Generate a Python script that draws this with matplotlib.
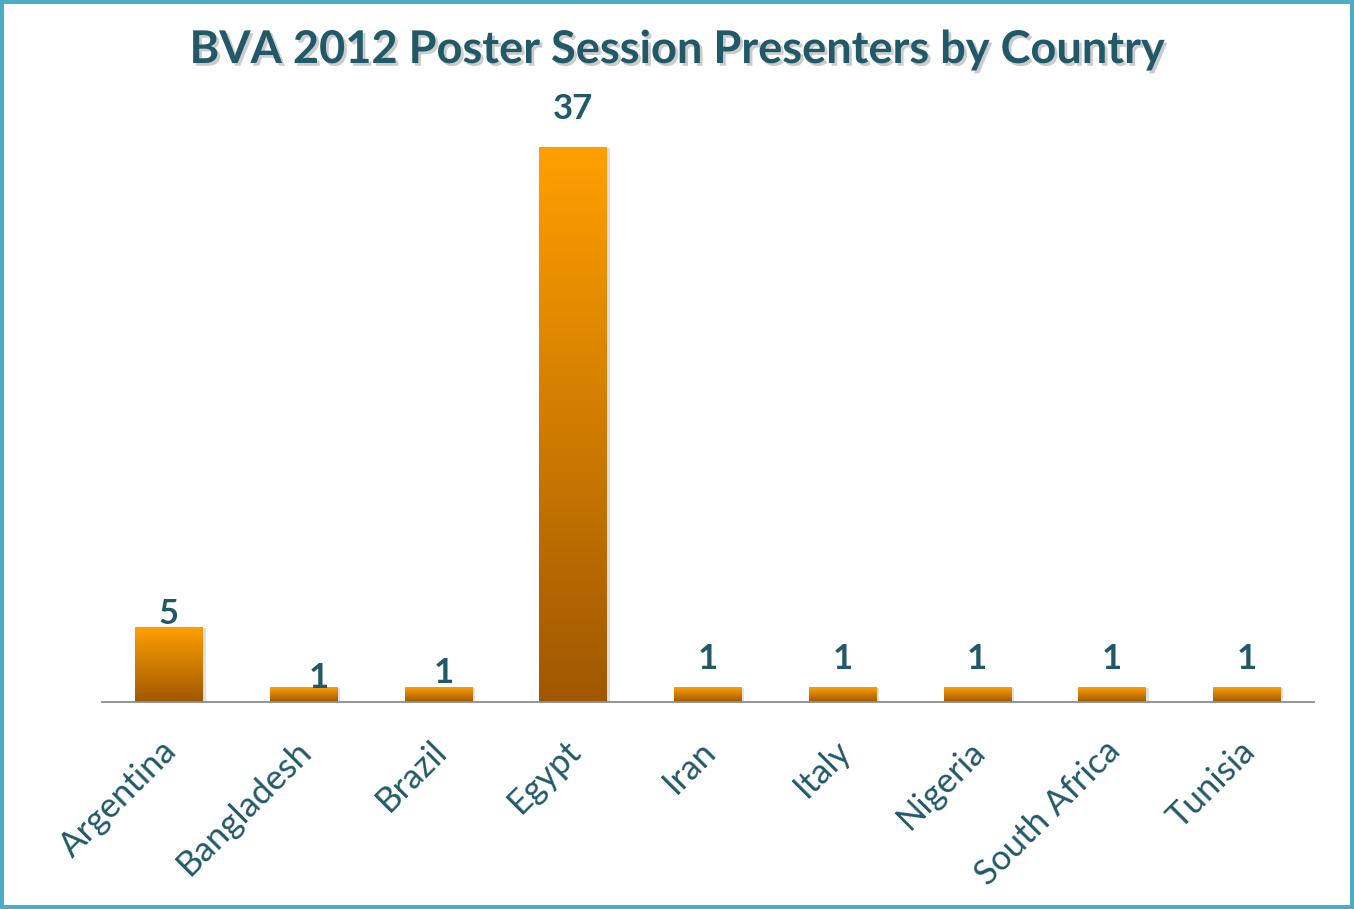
import matplotlib
matplotlib.use("Agg")
import matplotlib.pyplot as plt
import matplotlib.patches as mpatches
import matplotlib.transforms as mtransforms
import matplotlib.patheffects as pe
import numpy as np
from matplotlib.colors import LinearSegmentedColormap

# ---- data ----
countries = ["Argentina", "Bangladesh", "Brazil", "Egypt", "Iran",
             "Italy", "Nigeria", "South Africa", "Tunisia"]
presenters = [5, 1, 1, 37, 1, 1, 1, 1, 1]
title = "BVA 2012 Poster Session Presenters by Country"

# ---- style ----
TEXT_C = "#215968"
BORDER_C = "#4BACC6"
TOP_C = "#FFA000"
BOT_C = "#A05800"
# value-label nudges (pixels: dx, gap from bar top to digit baseline)
label_nudge = [(0, 3), (15, -1), (5, 4), (0, 28), (0, 18), (0, 18), (0, 18), (0, 18), (0, 18)]

W, H, DPI = 1354, 909, 100
fig = plt.figure(figsize=(W / DPI, H / DPI), dpi=DPI)
fig.patch.set_facecolor("white")

ax = fig.add_axes([101.6 / W, 1 - 702 / H, (1314 - 101.6) / W, 600 / H])
ax.set_xlim(-0.5, len(countries) - 0.5)
ax.set_ylim(0, 40)
for s in ["top", "right", "left"]:
    ax.spines[s].set_visible(False)
ax.spines["bottom"].set_color("#8C8C8C")
ax.spines["bottom"].set_linewidth(1.3)
ax.set_yticks([])
ax.set_xticks([])
ax.patch.set_alpha(0)

cmap = LinearSegmentedColormap.from_list("barg", [BOT_C, TOP_C])
grad = np.linspace(0, 1, 256).reshape(-1, 1)
bw = 0.5
px = 1.0 / DPI * 72  # points per pixel

x = np.arange(len(countries))
for i, v in enumerate(presenters):
    # shadow
    sh_tr = mtransforms.offset_copy(ax.transData, fig=fig, x=3 * px, y=-1 * px, units="points")
    ax.add_patch(mpatches.Rectangle((x[i] - bw / 2, 0), bw, v, transform=sh_tr,
                                    facecolor="#000000", alpha=0.12, edgecolor="none", zorder=1))
    rect = mpatches.Rectangle((x[i] - bw / 2, 0), bw, v, facecolor="none", edgecolor="none", zorder=2)
    ax.add_patch(rect)
    im = ax.imshow(grad, cmap=cmap, aspect="auto", origin="lower",
                   extent=(x[i] - bw / 2, x[i] + bw / 2, 0, v), zorder=2, interpolation="bilinear")
    im.set_clip_path(rect)
    dx, gap = label_nudge[i]
    tr = mtransforms.offset_copy(ax.transData, fig=fig, x=dx * px, y=gap * px, units="points")
    ax.text(x[i], v, str(v), transform=tr, ha="center", va="baseline",
            fontsize=25, fontweight="bold", color=TEXT_C, family="Lato", zorder=3)

# category labels
for i, c in enumerate(countries):
    tr = mtransforms.offset_copy(ax.get_xaxis_transform(), fig=fig, x=10 * px, y=-51 * px, units="points")
    ax.text(x[i], 0, c, transform=tr, rotation=45, rotation_mode="anchor",
            ha="right", va="baseline", fontsize=25, color=TEXT_C, family="Lato")

ax.set_xlim(-0.5, len(countries) - 0.5)
ax.set_ylim(0, 40)

# title with shadow
fig.text(0.5, 1 - 63 / H, title, ha="center", va="baseline", fontsize=32.5,
         fontweight="bold", color=TEXT_C, family="Lato",
         path_effects=[pe.withSimplePatchShadow(offset=(2, -2), shadow_rgbFace="#9A9A9A", alpha=0.5)])

# border
fig.patches.append(mpatches.Rectangle((0, 0), 1, 1, transform=fig.transFigure,
                                      fill=False, edgecolor=BORDER_C, linewidth=8 * px,
                                      zorder=10))

fig.savefig("out.png", dpi=DPI, facecolor="white")
